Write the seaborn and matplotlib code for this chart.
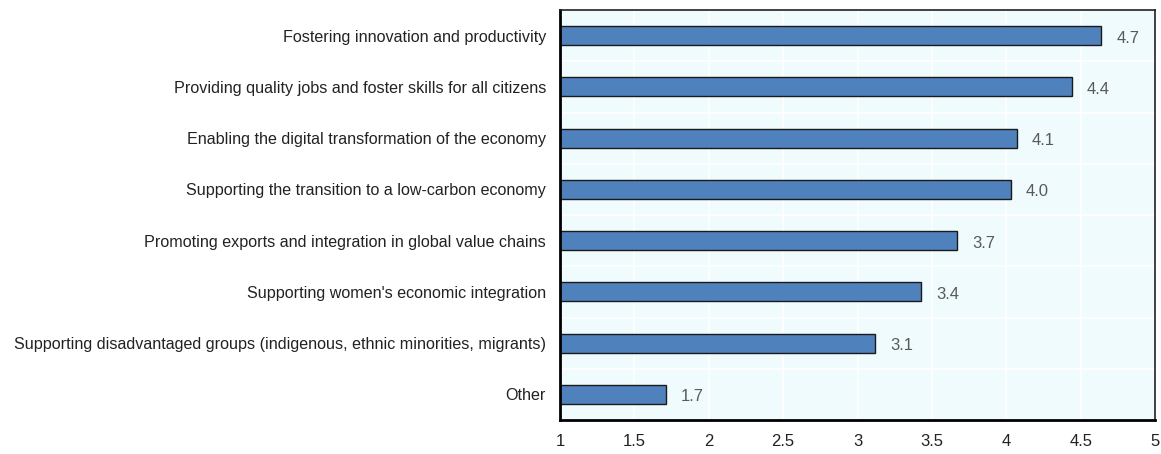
import matplotlib
matplotlib.use("Agg")
from matplotlib import pyplot as plt
import seaborn as sns
import numpy as np
import pandas as pd

categories = [
    "Fostering innovation and productivity",
    "Providing quality jobs and foster skills for all citizens",
    "Enabling the digital transformation of the economy",
    "Supporting the transition to a low-carbon economy",
    "Promoting exports and integration in global value chains",
    "Supporting women's economic integration",
    "Supporting disadvantaged groups (indigenous, ethnic minorities, migrants)",
    "Other",
]
scores = [4.64, 4.44, 4.07, 4.03, 3.67, 3.43, 3.12, 1.71]
score_labels = ["4.7", "4.4", "4.1", "4.0", "3.7", "3.4", "3.1", "1.7"]

df = pd.DataFrame({"category": categories, "score": scores})

sns.set_style("white")
plt.rcParams["font.family"] = ["Liberation Sans", "DejaVu Sans"]

fig = plt.figure(figsize=(11.61, 4.54), dpi=100)
ax = fig.add_axes([560 / 1161, 1 - 420 / 454, 595 / 1161, 410 / 454])
ax.set_facecolor("#f0fbfe")

sns.barplot(data=df, x="score", y="category", orient="h", color="#4f81bd",
            saturation=1, width=0.37, edgecolor="#1a1a1a", linewidth=1.0, ax=ax)

ax.set_xlim(1, 5)
ax.set_ylim(len(categories) - 0.5, -0.5)
ax.set_xticks(np.arange(1, 5.01, 0.5))
ax.set_xticklabels(["1", "1.5", "2", "2.5", "3", "3.5", "4", "4.5", "5"])
ax.set_yticks(np.arange(-0.5, len(categories), 1), minor=True)
ax.set_xlabel("")
ax.set_ylabel("")

# white grid on light background
for xv in np.arange(1.5, 5, 0.5):
    ax.axvline(xv, color="white", lw=1.2, zorder=0)
for yv in np.arange(0.5, len(categories) - 0.5, 1):
    ax.axhline(yv, color="white", lw=1.2, zorder=0)

ax.tick_params(axis="x", direction="in", length=5, width=1.5, color="black",
               labelsize=12, labelcolor="#222222", pad=10)
ax.tick_params(axis="y", which="major", length=0, labelsize=11.6,
               labelcolor="#222222", pad=10)
ax.tick_params(axis="y", which="minor", direction="in", length=4, width=1.5, color="black")

for side in ["left", "bottom"]:
    ax.spines[side].set_linewidth(2)
    ax.spines[side].set_color("black")
for side in ["top", "right"]:
    ax.spines[side].set_linewidth(1.2)
    ax.spines[side].set_color("#222222")
    ax.spines[side].set_visible(True)

for i, (v, lab) in enumerate(zip(scores, score_labels)):
    ax.text(v + 0.1, i + 0.05, lab, va="center", ha="left", fontsize=12, color="#595959")

fig.savefig("out.png", dpi=100)
